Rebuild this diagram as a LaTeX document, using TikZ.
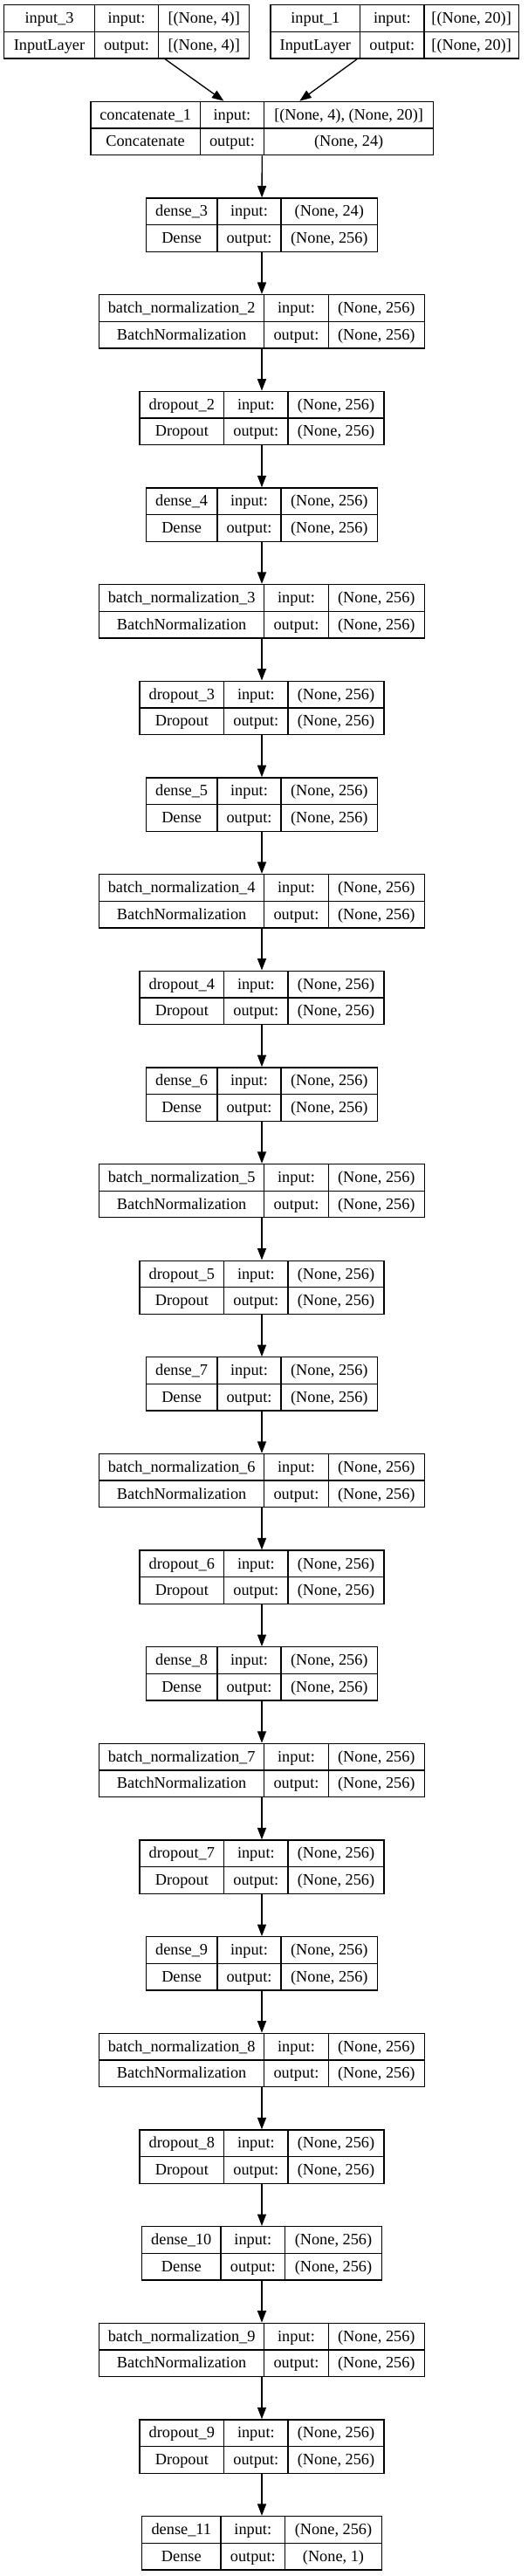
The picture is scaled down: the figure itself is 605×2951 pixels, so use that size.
\documentclass[tikz,border=0pt]{standalone}
\usepackage{fontspec}
\setmainfont{Liberation Serif}
\usetikzlibrary{arrows.meta}
\tikzset{
  layerbox/.style={draw=black, line width=1.33pt, inner sep=0pt},
  cellline/.style={line width=1.33pt},
  celltext/.style={anchor=base, inner sep=0pt, text=black, font=\fontsize{18.3}{22}\selectfont},
  arr/.style={line width=1.33pt, -{Triangle[length=13.5pt,width=10pt]}},
}
\newcommand\klayerbox[6]{%
  \pgfmathsetmacro\KW{#4+#5+#6}%
  \pgfmathsetmacro\KL{#2-\KW/2}%
  \pgfmathsetmacro\KT{5.7+110.65*#3}%
  \pgfmathsetmacro\KA{\KL+#4}%
  \pgfmathsetmacro\KB{\KA+#5}%
  \pgfmathsetmacro\KR{\KL+\KW}%
  \pgfmathsetmacro\KM{\KT+30.65}%
  \pgfmathsetmacro\KBot{\KT+61.3}%
  \node[layerbox, minimum width=\KW pt, minimum height=61.3pt] (#1) at (#2,\KM) {};
  \draw[cellline] (\KL,\KM) -- (\KR,\KM);
  \draw[cellline] (\KA,\KT) -- (\KA,\KBot);
  \draw[cellline] (\KB,\KT) -- (\KB,\KBot);
  \pgfmathsetmacro\KXa{\KL+#4/2}%
  \pgfmathsetmacro\KXb{\KA+#5/2}%
  \pgfmathsetmacro\KXc{\KB+#6/2}%
  \pgfmathsetmacro\KYa{\KT+15.3+5.6}%
  \pgfmathsetmacro\KYb{\KM+15.3+5.6}%
}
\newcommand\klayertext[5]{%
  \node[celltext] (#1-nm) at (\KXa,\KYa) {#2};
  \node[celltext] (#1-cl) at (\KXa,\KYb) {#3};
  \node[celltext] (#1-il) at (\KXb,\KYa) {input:};
  \node[celltext] (#1-ol) at (\KXb,\KYb) {output:};
  \node[celltext] (#1-iv) at (\KXc,\KYa) {#4};
  \node[celltext] (#1-ov) at (\KXc,\KYb) {#5};
}
\begin{document}
\begin{tikzpicture}[x=1pt,y=-1pt]
\useasboundingbox[fill=white] (0,0) rectangle (605,2951);
\klayerbox{L0a}{145.2}{0}{103.6}{73.4}{104}
\klayertext{L0a}{input\_3}{InputLayer}{[(None, 4)]}{[(None, 4)]}
\klayerbox{L0b}{452.15}{0}{102.7}{73.3}{108.3}
\klayertext{L0b}{input\_1}{InputLayer}{[(None, 20)]}{[(None, 20)]}
\klayerbox{L1}{300.3}{1}{125.3}{73.4}{194}
\klayertext{L1}{concatenate\_1}{Concatenate}{[(None, 4), (None, 20)]}{(None, 24)}
\klayerbox{L2}{300}{2}{81.7}{73}{110.7}
\klayertext{L2}{dense\_3}{Dense}{(None, 24)}{(None, 256)}
\foreach \i in {0,...,7}{
  \pgfmathtruncatemacro\kb{3+3*\i}
  \pgfmathtruncatemacro\kd{4+3*\i}
  \pgfmathtruncatemacro\ke{5+3*\i}
  \pgfmathtruncatemacro\nb{2+\i}
  \pgfmathtruncatemacro\nd{4+\i}
  \klayerbox{L\kb}{300}{\kb}{189}{73.7}{110}
  \klayertext{L\kb}{batch\_normalization\_\nb}{BatchNormalization}{(None, 256)}{(None, 256)}
  \klayerbox{L\kd}{300}{\kd}{96.7}{73.3}{110}
  \klayertext{L\kd}{dropout\_\nb}{Dropout}{(None, 256)}{(None, 256)}
  \ifnum\i<7
    \ifnum\i=6
      \klayerbox{L\ke}{300}{\ke}{90.6}{73.4}{111}
    \else
      \klayerbox{L\ke}{300}{\ke}{81.7}{73}{110.7}
    \fi
    \klayertext{L\ke}{dense\_\nd}{Dense}{(None, 256)}{(None, 256)}
  \fi
}
\klayerbox{L26}{300}{26}{90.6}{73.4}{111}
\klayertext{L26}{dense\_11}{Dense}{(None, 256)}{(None, 1)}
\draw[arr] (L0a) -- (L1);
\draw[arr] (L0b) -- (L1);
\foreach \k [evaluate=\k as \n using int(\k+1)] in {1,...,25}
  \draw[arr] (L\k) -- (L\n);
\end{tikzpicture}
\end{document}
